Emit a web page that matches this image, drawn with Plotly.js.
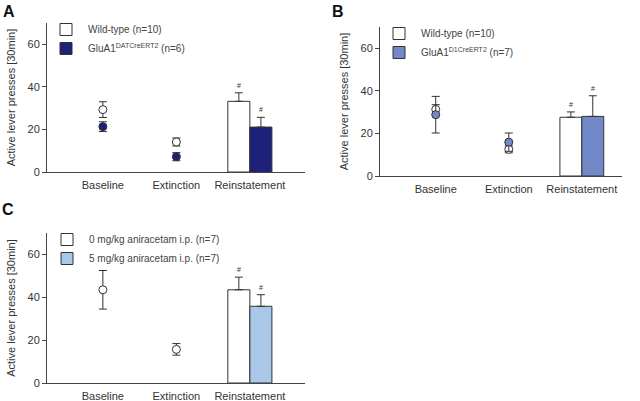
<!DOCTYPE html>
<html><head><meta charset="utf-8">
<script src="https://cdn.plot.ly/plotly-3.0.1.min.js"></script>
<style>html,body{margin:0;padding:0;background:#fff}#chart{width:640px;height:401px}</style>
</head><body><div id="chart"></div>
<script>
const categories = ['Baseline', 'Extinction', 'Reinstatement'];
const catPos = [0, 1, 2];

// Panel A
const aNames = ['Wild-type (n=10)', 'GluA1<sup>DATCreERT2</sup> (n=6)'];
const aWtMean = [29.3, 14.1, 33.2];
const aWtErr = [3.7, 1.9, 4.0];
const aKoMean = [21.3, 7.2, 21.1];
const aKoErr = [2.3, 1.9, 4.6];

// Panel B
const bNames = ['Wild-type (n=10)', 'GluA1<sup>D1CreERT2</sup> (n=7)'];
const bWtMean = [31.3, 12.5, 27.6];
const bWtErr = [2.2, 1.6, 2.5];
const bKoMean = [28.8, 15.9, 28.0];
const bKoErr = [8.6, 4.3, 9.7];

// Panel C
const cNames = ['0 mg/kg aniracetam i.p. (n=7)', '5 mg/kg aniracetam i.p. (n=7)'];
const cVehMean = [43.5, 15.7, 43.5];
const cVehErr = [9.0, 2.7, 5.9];
const cAniMean = [null, null, 35.8];
const cAniErr = [null, null, 5.4];

const yTicks = [0, 20, 40, 60];
const sigMark = '#';

const colNavy = '#1d2179';
const colBlue = '#7189c9';
const colLight = '#a9c7e9';
const ink = '#333';

const BW = 0.3;

function pts(x, y, e, fill, xa, ya) {
  return {
    type: 'scatter', mode: 'markers', x: x, y: y, xaxis: xa, yaxis: ya, showlegend: false,
    marker: {size: 8, color: fill, line: {color: ink, width: 1}},
    error_y: {type: 'data', array: e, color: ink, thickness: 1, width: 4},
    hoverinfo: 'skip'
  };
}
function bar(x, y, e, fill, off, name, xa, ya, lg) {
  return {
    type: 'bar', x: [x], y: [y], width: [BW], offset: [off], xaxis: xa, yaxis: ya,
    name: name, legend: lg, showlegend: true,
    marker: {color: fill, line: {color: ink, width: 1}},
    error_y: {type: 'data', array: [e], arrayminus: [0], symmetric: false, color: ink, thickness: 1, width: 4},
    hoverinfo: 'skip'
  };
}

const traces = [
  // A
  bar(catPos[2], aWtMean[2], aWtErr[2], '#ffffff', -BW, aNames[0], 'x', 'y', 'legend'),
  bar(catPos[2], aKoMean[2], aKoErr[2], colNavy, 0, aNames[1], 'x', 'y', 'legend'),
  pts(catPos.slice(0,2), aWtMean.slice(0,2), aWtErr.slice(0,2), '#ffffff', 'x', 'y'),
  pts(catPos.slice(0,2), aKoMean.slice(0,2), aKoErr.slice(0,2), colNavy, 'x', 'y'),
  // B
  bar(catPos[2], bWtMean[2], bWtErr[2], '#ffffff', -BW, bNames[0], 'x2', 'y2', 'legend2'),
  bar(catPos[2], bKoMean[2], bKoErr[2], colBlue, 0, bNames[1], 'x2', 'y2', 'legend2'),
  pts(catPos.slice(0,2), bWtMean.slice(0,2), bWtErr.slice(0,2), '#ffffff', 'x2', 'y2'),
  pts(catPos.slice(0,2), bKoMean.slice(0,2), bKoErr.slice(0,2), colBlue, 'x2', 'y2'),
  // C
  bar(catPos[2], cVehMean[2], cVehErr[2], '#ffffff', -BW, cNames[0], 'x3', 'y3', 'legend3'),
  bar(catPos[2], cAniMean[2], cAniErr[2], colLight, 0, cNames[1], 'x3', 'y3', 'legend3'),
  pts(catPos.slice(0,2), cVehMean.slice(0,2), cVehErr.slice(0,2), '#ffffff', 'x3', 'y3')
];

const font = {family: 'Liberation Sans, Arial, sans-serif', size: 11, color: ink};

function xax(domain, range, anchor) {
  return {domain: domain, range: range, anchor: anchor, tickmode: 'array', tickvals: catPos, ticktext: categories,
    showline: true, linecolor: '#444', linewidth: 1, ticks: '', showgrid: false, zeroline: false,
    ticklabelstandoff: 3, tickfont: {size: 11, color: ink}, fixedrange: true};
}
function yax(domain, anchor) {
  return {domain: domain, range: [0, 70], anchor: anchor, tickmode: 'array', tickvals: yTicks,
    showline: true, linecolor: '#444', linewidth: 1, ticks: 'outside', ticklen: 4, tickcolor: '#444',
    showgrid: false, zeroline: false, tickfont: {size: 11, color: ink},
    title: {text: 'Active lever presses [30min]', font: {size: 11, color: ink}}, fixedrange: true};
}

function sig(x, y, xa, ya) {
  return {x: x, y: y, xref: xa, yref: ya, text: sigMark, showarrow: false, yanchor: 'bottom', yshift: 2,
    font: {size: 7, color: ink}};
}

const annotations = [
  sig(catPos[2] - BW/2, aWtMean[2] + aWtErr[2], 'x', 'y'),
  sig(catPos[2] + BW/2, aKoMean[2] + aKoErr[2], 'x', 'y'),
  sig(catPos[2] - BW/2, bWtMean[2] + bWtErr[2], 'x2', 'y2'),
  sig(catPos[2] + BW/2, bKoMean[2] + bKoErr[2], 'x2', 'y2'),
  sig(catPos[2] - BW/2, cVehMean[2] + cVehErr[2], 'x3', 'y3'),
  sig(catPos[2] + BW/2, cAniMean[2] + cAniErr[2], 'x3', 'y3'),
  {x: 1/640, y: 1 - 1/401, xref: 'paper', yref: 'paper', xanchor: 'left', yanchor: 'top', text: '<b>A</b>', showarrow: false, font: {size: 16, color: '#111'}},
  {x: 330/640, y: 1 - 1/401, xref: 'paper', yref: 'paper', xanchor: 'left', yanchor: 'top', text: '<b>B</b>', showarrow: false, font: {size: 16, color: '#111'}},
  {x: 0/640, y: 1 - 199/401, xref: 'paper', yref: 'paper', xanchor: 'left', yanchor: 'top', text: '<b>C</b>', showarrow: false, font: {size: 16, color: '#111'}}
];

function leg(x, y) {
  return {x: x, y: y, xanchor: 'left', yanchor: 'top', bgcolor: 'rgba(0,0,0,0)', borderwidth: 0,
    font: {size: 10, color: '#444'}, tracegroupgap: 0, itemwidth: 34, traceorder: 'normal'};
}

const layout = {
  width: 640, height: 401, margin: {l: 0, r: 0, t: 0, b: 0},
  paper_bgcolor: '#fff', plot_bgcolor: '#fff', font: font, barmode: 'overlay', showlegend: true,
  xaxis: xax([47/640, 305/640], [-0.76, 2.75], 'y'),
  yaxis: yax([1 - 172/401, 1 - 23/401], 'x'),
  xaxis2: xax([380/640, 622/640], [-0.763, 2.55], 'y2'),
  yaxis2: yax([1 - 176/401, 1 - 27/401], 'x2'),
  xaxis3: xax([47/640, 305/640], [-0.76, 2.75], 'y3'),
  yaxis3: yax([1 - 383/401, 1 - 233/401], 'x3'),
  legend: leg(44/640, 1 - 15/401),
  legend2: leg(377/640, 1 - 19/401),
  legend3: leg(45/640, 1 - 225/401),
  annotations: annotations
};

Plotly.newPlot('chart', traces, layout, {staticPlot: true, displayModeBar: false});
</script></body></html>
